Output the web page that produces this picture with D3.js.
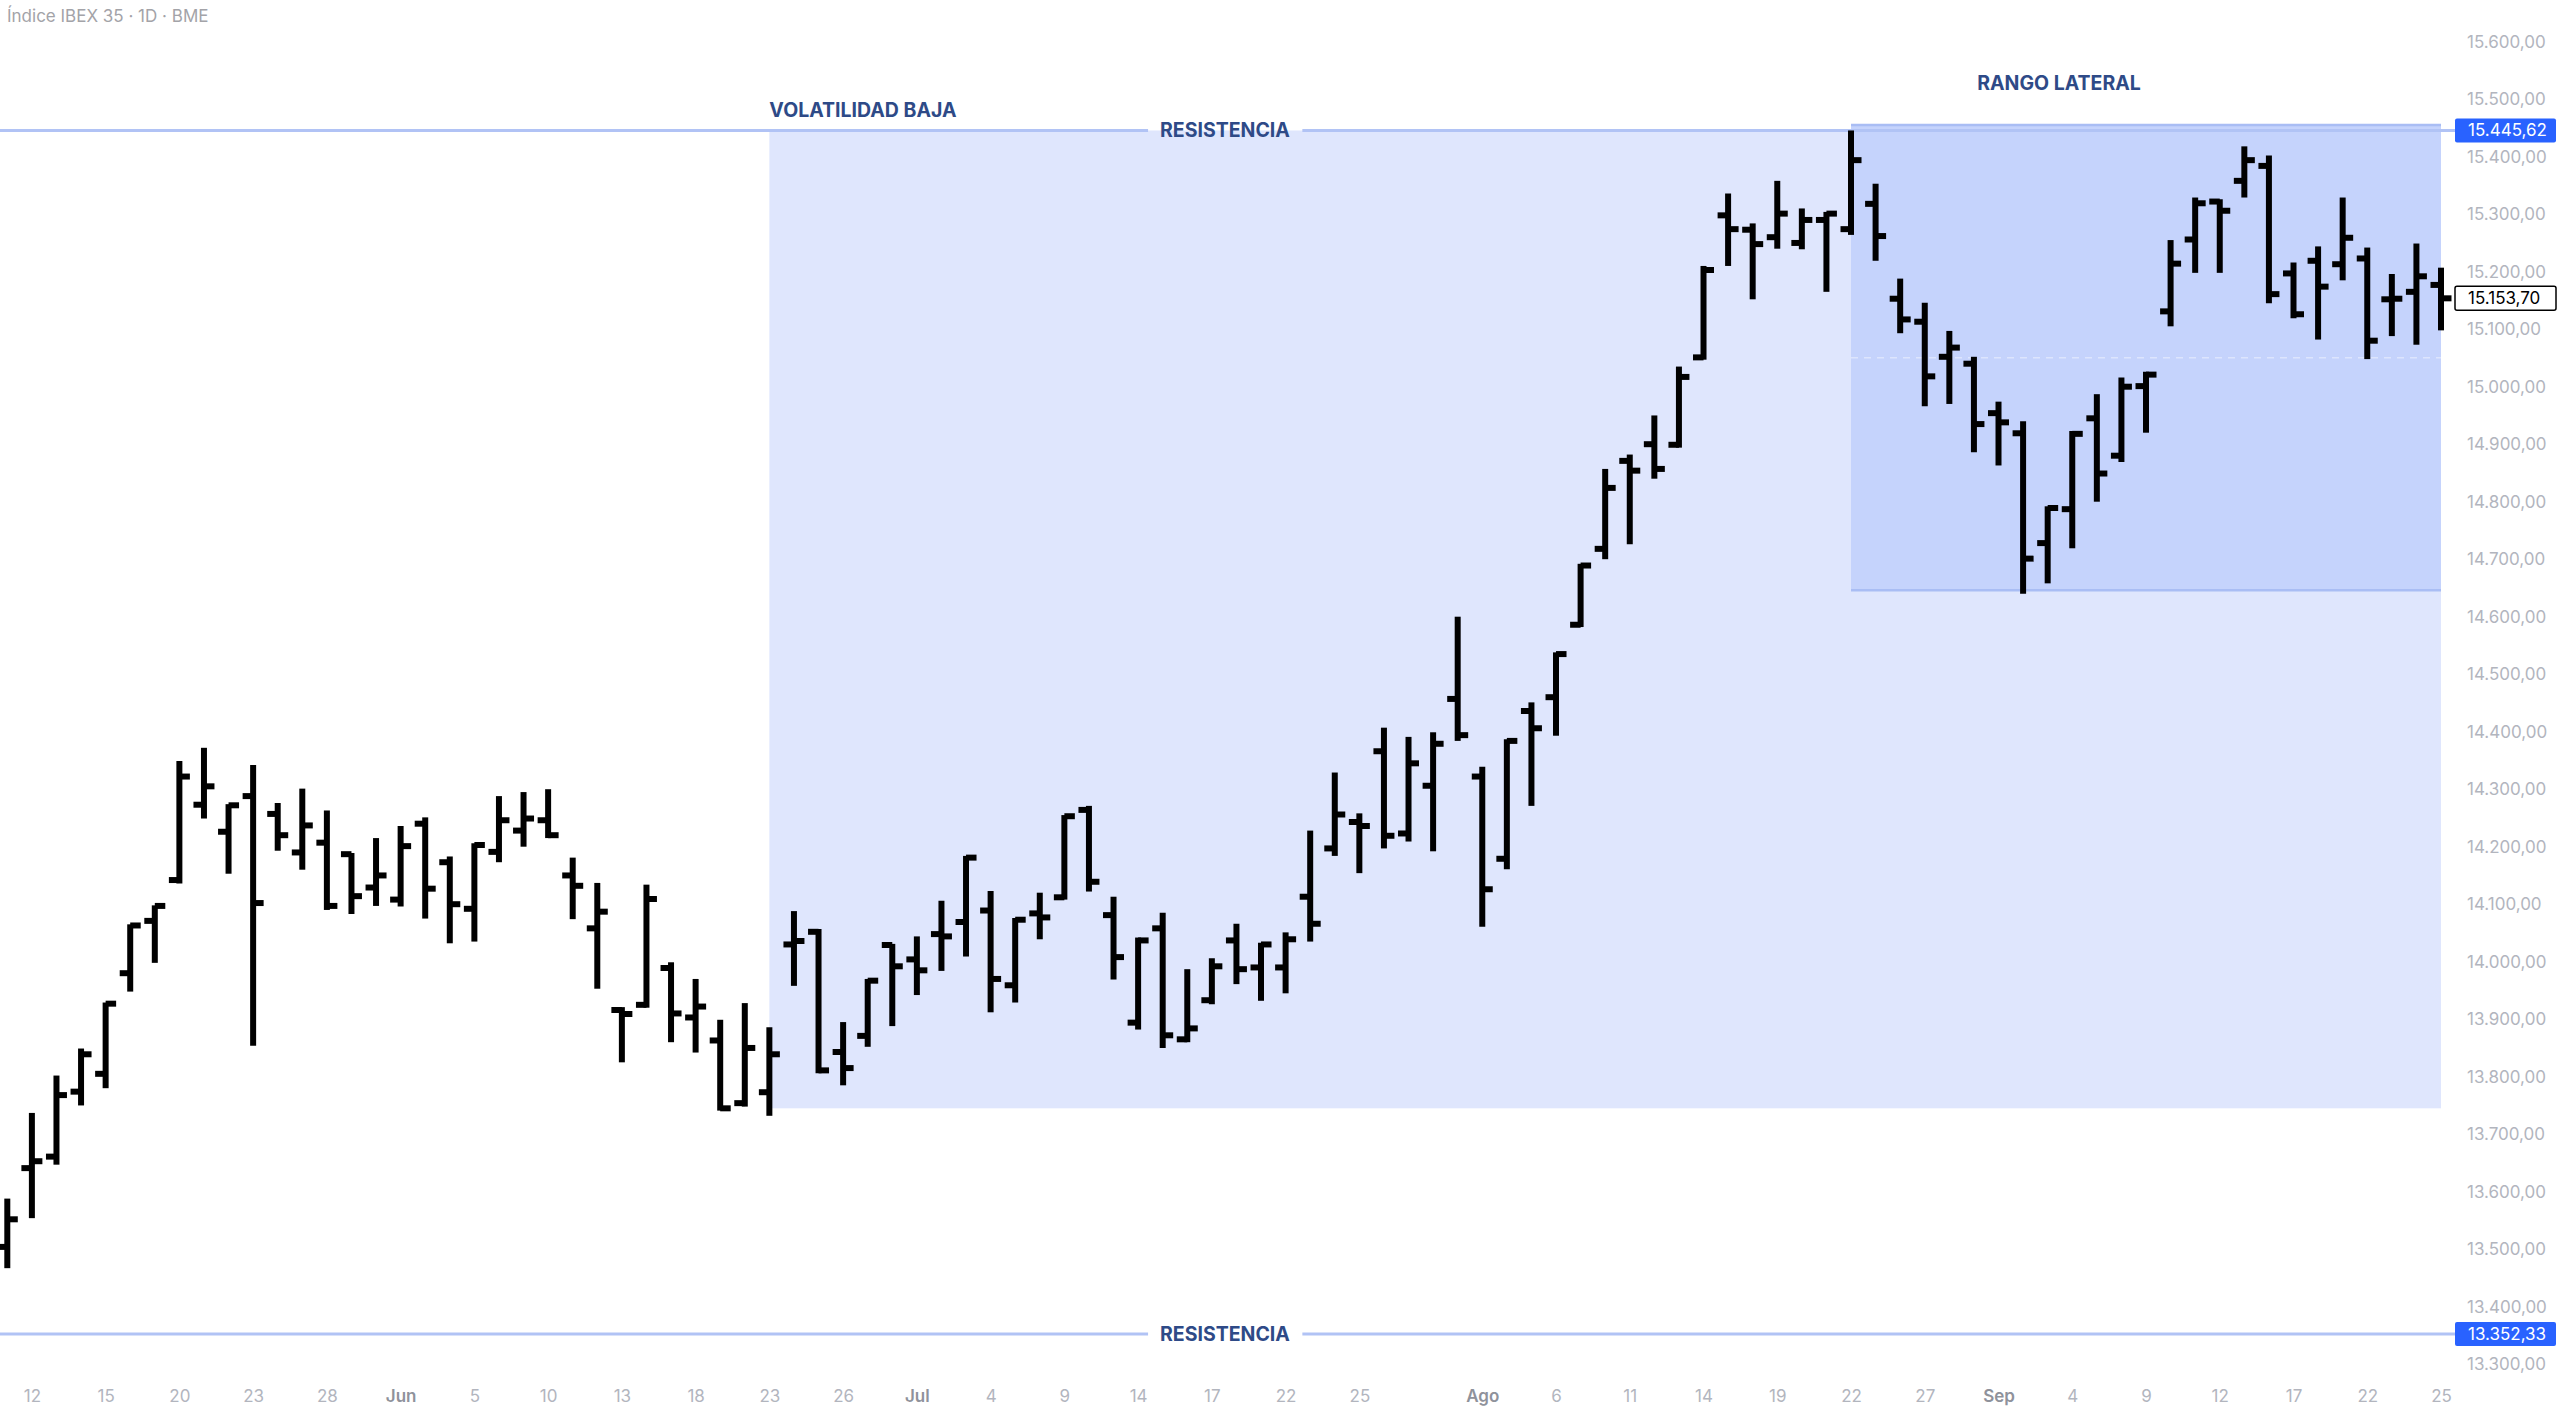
<!DOCTYPE html>
<html>
<head>
<meta charset="utf-8">
<script src="https://d3js.org/d3.v7.min.js"></script>
<style>
  html, body { margin: 0; padding: 0; background: #fff; }
  svg { display: block; font-family: Inter, "Noto Sans", sans-serif; }
</style>
</head>
<body>
<div id="chart"></div>
<script>
// sesiones diarias (BME)
const dates = [
  "2025-05-09","2025-05-12","2025-05-13","2025-05-14","2025-05-15","2025-05-16","2025-05-19","2025-05-20","2025-05-21","2025-05-22",
  "2025-05-23","2025-05-26","2025-05-27","2025-05-28","2025-05-29","2025-05-30","2025-06-02","2025-06-03","2025-06-04","2025-06-05",
  "2025-06-06","2025-06-09","2025-06-10","2025-06-11","2025-06-12","2025-06-13","2025-06-16","2025-06-17","2025-06-18","2025-06-19",
  "2025-06-20","2025-06-23","2025-06-24","2025-06-25","2025-06-26","2025-06-27","2025-06-30","2025-07-01","2025-07-02","2025-07-03",
  "2025-07-04","2025-07-07","2025-07-08","2025-07-09","2025-07-10","2025-07-11","2025-07-14","2025-07-15","2025-07-16","2025-07-17",
  "2025-07-18","2025-07-21","2025-07-22","2025-07-23","2025-07-24","2025-07-25","2025-07-28","2025-07-29","2025-07-30","2025-07-31",
  "2025-08-01","2025-08-04","2025-08-05","2025-08-06","2025-08-07","2025-08-08","2025-08-11","2025-08-12","2025-08-13","2025-08-14",
  "2025-08-15","2025-08-18","2025-08-19","2025-08-20","2025-08-21","2025-08-22","2025-08-25","2025-08-26","2025-08-27","2025-08-28",
  "2025-08-29","2025-09-01","2025-09-02","2025-09-03","2025-09-04","2025-09-05","2025-09-08","2025-09-09","2025-09-10","2025-09-11",
  "2025-09-12","2025-09-15","2025-09-16","2025-09-17","2025-09-18","2025-09-19","2025-09-22","2025-09-23","2025-09-24","2025-09-25"
];

const open = [
  13504,13641,13661,13774,13805,13980,14071,14142,14273,14226,
  14288,14257,14190,14207,14187,14129,14108,14240,14173,14092,
  14191,14228,14246,14150,14058,13916,13925,13989,13903,13863,
  13754,13773,14030,14052,13843,13871,14029,14004,14048,14069,
  14089,13959,14084,14112,14264,14081,13894,14058,13865,13933,
  14037,13990,13990,14113,14197,14243,14366,14223,14306,14457,
  14322,14179,14436,14460,14586,14718,14871,14900,14899,15051,
  15298,15273,15260,15250,15290,15274,15318,15153,15113,15052,
  15040,14954,14919,14728,14787,14945,14880,15001,15131,15256,
  15322,15358,15384,15197,15219,15213,15223,15152,15165,15177
];
const high = [
  13588,13737,13802,13849,13929,14065,14098,14349,14372,14274,
  14342,14276,14301,14263,14189,14215,14236,14251,14183,14206,
  14288,14295,14300,14181,14137,13921,14134,13999,13970,13899,
  13928,13886,14088,14057,13895,13970,14031,14044,14106,14184,
  14123,14076,14120,14255,14271,14113,14042,14085,13987,14006,
  14066,14033,14051,14228,14329,14258,14407,14391,14399,14600,
  14339,14387,14451,14538,14692,14857,14882,14950,15035,15210,
  15336,15284,15358,15310,15304,15445.62,15353,15188,15146,15097,
  15052,14974,14940,14792,14923,14987,15016,15026,15255,15329,
  15326,15418,15402,15216,15244,15329,15242,15196,15249,15207
];
const low = [
  13467,13554,13647,13750,13780,13948,13998,14136,14249,14153,
  13854,14193,14160,14090,14083,14097,14096,14075,14032,14035,
  14173,14200,14215,14074,13953,13825,13920,13860,13842,13741,
  13748,13732,13958,13806,13785,13852,13888,13942,13984,14009,
  13912,13929,14039,14108,14122,13969,13882,13850,13860,13926,
  13961,13932,13945,14035,14184,14154,14197,14209,14192,14384,
  14061,14161,14271,14393,14582,14700,14726,14840,14894,15047,
  15210,15152,15240,15239,15165,15264,15219,15093,14966,14970,
  14886,14863,14640,14658,14719,14800,14869,14920,15105,15198,
  15198,15329,15145,15119,15082,15185,15048,15088,15073,15098
];
const close = [
  13552,13653,13768,13839,13927,14063,14097,14322,14305,14272,
  14102,14220,14237,14097,14114,14150,14201,14127,14100,14203,
  14246,14249,14220,14132,14087,13909,14109,13910,13922,13745,
  13850,13839,14036,13811,13815,13967,13992,13985,14044,14181,
  13970,14073,14077,14253,14139,14008,14037,13872,13884,13992,
  13987,14030,14039,14066,14256,14236,14219,14345,14379,14394,
  14126,14384,14406,14535,14689,14824,14854,14857,15017,15203,
  15274,15248,15301,15290,15301,15394,15262,15117,15018,15068,
  14935,14938,14701,14789,14918,14849,15000,15021,15214,15319,
  15306,15394,15161,15126,15174,15259,15080,15153,15192,15153.70
];

const timeTickDates = [
  "2025-05-12","2025-05-15","2025-05-20","2025-05-23","2025-05-28","2025-06-02","2025-06-05","2025-06-10","2025-06-13","2025-06-18",
  "2025-06-23","2025-06-26","2025-07-01","2025-07-04","2025-07-09","2025-07-14","2025-07-17","2025-07-22","2025-07-25","2025-08-01",
  "2025-08-06","2025-08-11","2025-08-14","2025-08-19","2025-08-22","2025-08-27","2025-09-01","2025-09-04","2025-09-09","2025-09-12",
  "2025-09-17","2025-09-22","2025-09-25"
];
const timeTickLabels = [
  "12","15","20","23","28","Jun","5","10","13","18",
  "23","26","Jul","4","9","14","17","22","25","Ago",
  "6","11","14","19","22","27","Sep","4","9","12",
  "17","22","25"
];
const monthLabels = ["Jun","Jul","Ago","Sep"];

const priceTicks = [13300,13400,13500,13600,13700,13800,13900,14000,14100,14200,14300,14400,
  14500,14600,14700,14800,14900,15000,15100,15200,15300,15400,15500,15600];

const resistanceLevels = [15445.62, 13352.33];
const lastPrice = 15153.70;

// zonas dibujadas
const lowVolZone = { from: "2025-06-23", to: "2025-09-25", top: 15445.62, bottom: 13745, label: "VOLATILIDAD BAJA" };
const rangeZone = { from: "2025-08-22", to: "2025-09-25", top: 15455, bottom: 14646, label: "RANGO LATERAL" };

const title = "Índice IBEX 35 · 1D · BME";

const W = 2560, H = 1413;
const axisX = 2455;

const svg = d3.select("#chart").append("svg")
  .attr("width", W).attr("height", H);

const x = d3.scalePoint().domain(dates).range([7.3, 2441]);
const y = d3.scaleLinear().domain([13300, 15600]).range([1364.2, 41.7]);

const es = d3.formatLocale({ decimal: ",", thousands: ".", grouping: [3], currency: ["", "€"] });
const fmt = es.format(",.2f");

// zona de volatilidad baja
svg.append("rect")
  .attr("x", x(lowVolZone.from))
  .attr("y", y(lowVolZone.top))
  .attr("width", x(lowVolZone.to) - x(lowVolZone.from))
  .attr("height", y(lowVolZone.bottom) - y(lowVolZone.top))
  .attr("fill", "#dfe6fd");

// rango lateral
svg.append("rect")
  .attr("x", x(rangeZone.from))
  .attr("y", y(rangeZone.top))
  .attr("width", x(rangeZone.to) - x(rangeZone.from))
  .attr("height", y(rangeZone.bottom) - y(rangeZone.top))
  .attr("fill", "#c5d3fc");

[rangeZone.top, rangeZone.bottom].forEach(v => {
  svg.append("line")
    .attr("x1", x(rangeZone.from)).attr("x2", x(rangeZone.to))
    .attr("y1", y(v)).attr("y2", y(v))
    .attr("stroke", "#a9bdf4").attr("stroke-width", 2.5);
});

svg.append("line")
  .attr("x1", x(rangeZone.from)).attr("x2", x(rangeZone.to))
  .attr("y1", y((rangeZone.top + rangeZone.bottom) / 2))
  .attr("y2", y((rangeZone.top + rangeZone.bottom) / 2))
  .attr("stroke", "#dde5fd").attr("stroke-width", 1.5)
  .attr("stroke-dasharray", "7,6");

// resistencias
resistanceLevels.forEach(v => {
  const yy = y(v);
  const t = svg.append("text")
    .attr("x", 1225).attr("y", yy)
    .attr("text-anchor", "middle")
    .attr("dominant-baseline", "central")
    .attr("fill", "#2e4a87")
    .style("font-size", "19.5px").style("font-weight", 700)
    .text("RESISTENCIA");
  const bb = t.node().getBBox();
  svg.insert("line", "text")
    .attr("x1", 0).attr("x2", bb.x - 12)
    .attr("y1", yy).attr("y2", yy)
    .attr("stroke", "#b1c3f5").attr("stroke-width", 3);
  svg.insert("line", "text")
    .attr("x1", bb.x + bb.width + 12).attr("x2", axisX)
    .attr("y1", yy).attr("y2", yy)
    .attr("stroke", "#b1c3f5").attr("stroke-width", 3);
});

// barras OHLC
const barW = 6, tickLen = 10.5;
const bars = svg.append("g").selectAll("g")
  .data(dates)
  .join("g");

bars.append("line")
  .attr("x1", d => x(d)).attr("x2", d => x(d))
  .attr("y1", (d, i) => y(high[i])).attr("y2", (d, i) => y(low[i]))
  .attr("stroke", "#000").attr("stroke-width", barW);

bars.append("line")
  .attr("x1", d => x(d) - tickLen).attr("x2", d => x(d))
  .attr("y1", (d, i) => y(open[i])).attr("y2", (d, i) => y(open[i]))
  .attr("stroke", "#000").attr("stroke-width", barW);

bars.append("line")
  .attr("x1", d => x(d)).attr("x2", d => x(d) + tickLen)
  .attr("y1", (d, i) => y(close[i])).attr("y2", (d, i) => y(close[i]))
  .attr("stroke", "#000").attr("stroke-width", barW);

// textos de las zonas
svg.append("text")
  .attr("x", x(lowVolZone.from)).attr("y", y(lowVolZone.top) - 20)
  .attr("dominant-baseline", "central")
  .attr("fill", "#2e4a87")
  .style("font-size", "19.5px").style("font-weight", 700)
  .text(lowVolZone.label);

svg.append("text")
  .attr("x", 2059).attr("y", 83)
  .attr("text-anchor", "middle")
  .attr("dominant-baseline", "central")
  .attr("fill", "#2e4a87")
  .style("font-size", "19.5px").style("font-weight", 700)
  .text(rangeZone.label);

// eje de precios
const yAxis = svg.append("g")
  .attr("transform", `translate(2467,0)`)
  .call(d3.axisRight(y).tickValues(priceTicks).tickFormat(fmt).tickSize(0).tickPadding(0))
  .attr("font-family", null).attr("font-size", null);
yAxis.select(".domain").remove();
yAxis.selectAll("text")
  .attr("fill", "#b2b5be")
  .style("font-size", "17px");

// eje temporal
const xAxis = svg.append("g")
  .attr("transform", `translate(0,1396)`)
  .call(d3.axisBottom(x).tickValues(timeTickDates).tickFormat((d, i) => timeTickLabels[i]).tickSize(0).tickPadding(0))
  .attr("font-family", null).attr("font-size", null);
xAxis.select(".domain").remove();
xAxis.selectAll("text")
  .attr("dy", "0.35em")
  .attr("fill", d => monthLabels.includes(timeTickLabels[timeTickDates.indexOf(d)]) ? "#8f929b" : "#b2b5be")
  .style("font-weight", d => monthLabels.includes(timeTickLabels[timeTickDates.indexOf(d)]) ? 600 : 400)
  .style("font-size", "17px");

// etiquetas de precio
function priceTag(v, fill, stroke, color) {
  const yy = y(v);
  svg.append("rect")
    .attr("x", axisX).attr("y", yy - 12)
    .attr("width", 101).attr("height", 24)
    .attr("rx", 2)
    .attr("fill", fill)
    .attr("stroke", stroke || "none").attr("stroke-width", 1.5);
  svg.append("text")
    .attr("x", 2468).attr("y", yy)
    .attr("dominant-baseline", "central")
    .attr("fill", color)
    .style("font-size", "17px")
    .text(fmt(v));
}
resistanceLevels.forEach(v => priceTag(v, "#2962ff", null, "#fff"));
priceTag(lastPrice, "#fff", "#000", "#000");

// título
svg.append("text")
  .attr("x", 7).attr("y", 16)
  .attr("dominant-baseline", "central")
  .attr("fill", "#a3a3a8")
  .style("font-size", "17px")
  .text(title);
</script>
</body>
</html>
